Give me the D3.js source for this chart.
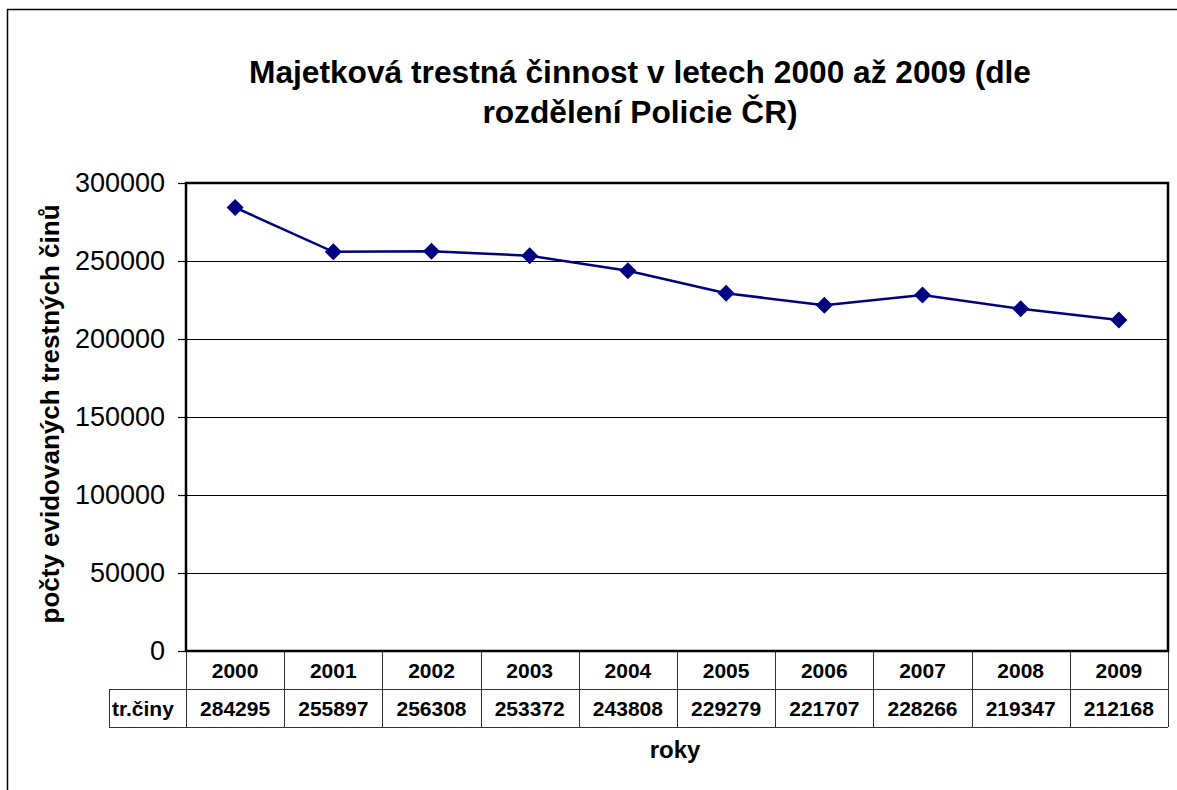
<!DOCTYPE html>
<html>
<head>
<meta charset="utf-8">
<script src="https://cdn.jsdelivr.net/npm/d3@7"></script>
<style>
  body { margin: 0; background: #fff; }
  svg text { font-family: "Liberation Sans", Arial, sans-serif; fill: #000; }
</style>
</head>
<body>
<div id="chart"></div>
<script>
// chart data
const years = ["2000", "2001", "2002", "2003", "2004", "2005", "2006", "2007", "2008", "2009"];
const crimes = [284295, 255897, 256308, 253372, 243808, 229279, 221707, 228266, 219347, 212168];
const yTicks = [0, 50000, 100000, 150000, 200000, 250000, 300000];
const seriesName = "tr.činy";
const titleLines = ["Majetková trestná činnost v letech 2000 až 2009 (dle", "rozdělení Policie ČR)"];

const W = 1177, H = 790;
const plot = {left: 186, top: 183, right: 1168, bottom: 651};
const rowH = 38;

const svg = d3.select("#chart")
  .append("svg")
  .attr("width", W)
  .attr("height", H);

// outer chart frame (right/bottom edges fall outside the picture)
svg.append("path")
  .attr("d", `M7.5,${H} V9.5 H${W}`)
  .attr("fill", "none")
  .attr("stroke", "#000")
  .attr("stroke-width", 1.5);

// title
svg.append("g").selectAll("text")
  .data(titleLines)
  .join("text")
    .attr("x", 640)
    .attr("y", (d, i) => 83 + i * 40)
    .attr("text-anchor", "middle")
    .style("font-size", "31.7px")
    .style("font-weight", "bold")
    .text(d => d);

// scales
const x = d3.scaleBand()
  .domain(years)
  .range([plot.left, plot.right]);

const y = d3.scaleLinear()
  .domain([0, 300000])
  .range([plot.bottom, plot.top]);

// gridlines
svg.append("g").selectAll("line")
  .data(yTicks.filter(d => d > 0 && d < 300000))
  .join("line")
    .attr("x1", plot.left)
    .attr("x2", plot.right)
    .attr("y1", d => Math.round(y(d)) + 0.5)
    .attr("y2", d => Math.round(y(d)) + 0.5)
    .attr("stroke", "#000")
    .attr("stroke-width", 1);

// y axis
const yAxis = svg.append("g")
  .attr("transform", `translate(${plot.left},0)`)
  .call(d3.axisLeft(y).tickValues(yTicks).tickSize(8).tickPadding(13).tickFormat(d3.format("d")));
yAxis.select(".domain").remove();
yAxis.selectAll(".tick line").attr("stroke", "#000").attr("stroke-width", 1.2);
yAxis.selectAll(".tick text")
  .style("font-size", "27px")
  .style("font-family", "'Liberation Sans', Arial, sans-serif")
  .attr("fill", "#000");

// data table under the plot
const table = svg.append("g");
const cellStroke = "#333";
// horizontal rules
table.append("line")
  .attr("x1", 109).attr("x2", plot.right)
  .attr("y1", plot.bottom + rowH + 0.5).attr("y2", plot.bottom + rowH + 0.5)
  .attr("stroke", cellStroke);
table.append("line")
  .attr("x1", 109).attr("x2", plot.right)
  .attr("y1", plot.bottom + 2 * rowH + 0.5).attr("y2", plot.bottom + 2 * rowH + 0.5)
  .attr("stroke", cellStroke);
// vertical rules
table.selectAll("line.col")
  .data(years)
  .join("line")
    .attr("class", "col")
    .attr("x1", d => Math.round(x(d)) + 0.5)
    .attr("x2", d => Math.round(x(d)) + 0.5)
    .attr("y1", plot.bottom)
    .attr("y2", plot.bottom + 2 * rowH)
    .attr("stroke", cellStroke);
table.append("line")
  .attr("x1", plot.right + 0.5).attr("x2", plot.right + 0.5)
  .attr("y1", plot.bottom).attr("y2", plot.bottom + 2 * rowH)
  .attr("stroke", cellStroke);
table.append("line")
  .attr("x1", 109.5).attr("x2", 109.5)
  .attr("y1", plot.bottom + rowH).attr("y2", plot.bottom + 2 * rowH)
  .attr("stroke", cellStroke);

// year labels
table.selectAll("text.year")
  .data(years)
  .join("text")
    .attr("class", "year")
    .attr("x", d => x(d) + x.bandwidth() / 2)
    .attr("y", plot.bottom + 27)
    .attr("text-anchor", "middle")
    .style("font-size", "21px")
    .style("font-weight", "bold")
    .text(d => d);

// values row
table.selectAll("text.val")
  .data(crimes)
  .join("text")
    .attr("class", "val")
    .attr("x", (d, i) => x(years[i]) + x.bandwidth() / 2)
    .attr("y", plot.bottom + rowH + 27)
    .attr("text-anchor", "middle")
    .style("font-size", "21px")
    .style("font-weight", "bold")
    .text(d => d);

table.append("text")
  .attr("x", 112)
  .attr("y", plot.bottom + rowH + 27)
  .style("font-size", "21px")
  .style("font-weight", "bold")
  .text(seriesName);

// plot area border
svg.append("rect")
  .attr("x", plot.left)
  .attr("y", plot.top)
  .attr("width", plot.right - plot.left)
  .attr("height", plot.bottom - plot.top)
  .attr("fill", "none")
  .attr("stroke", "#000")
  .attr("stroke-width", 2.5);

// line + markers
const line = d3.line()
  .x((d, i) => x(years[i]) + x.bandwidth() / 2)
  .y(d => y(d));

svg.append("path")
  .datum(crimes)
  .attr("d", line)
  .attr("fill", "none")
  .attr("stroke", "#000080")
  .attr("stroke-width", 2.5);

svg.append("g").selectAll("path")
  .data(crimes)
  .join("path")
    .attr("transform", (d, i) => `translate(${x(years[i]) + x.bandwidth() / 2},${y(d)})`)
    .attr("d", "M0,-8.5 L8.5,0 L0,8.5 L-8.5,0 Z")
    .attr("fill", "#000080");

// axis titles
svg.append("text")
  .attr("x", 675)
  .attr("y", 758)
  .attr("text-anchor", "middle")
  .style("font-size", "24px")
  .style("font-weight", "bold")
  .text("roky");

svg.append("text")
  .attr("transform", "translate(59,414) rotate(-90)")
  .attr("text-anchor", "middle")
  .style("font-size", "26px")
  .style("font-weight", "bold")
  .text("počty evidovaných trestných činů");
</script>
</body>
</html>
